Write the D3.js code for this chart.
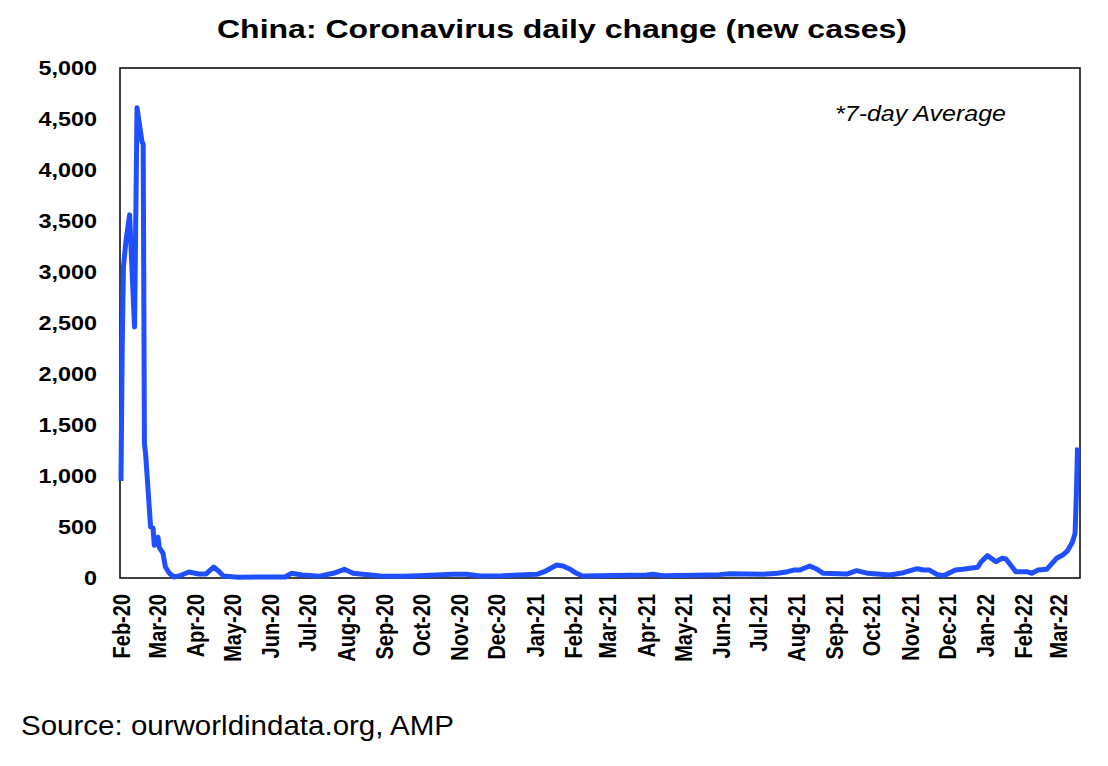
<!DOCTYPE html>
<html>
<head>
<meta charset="utf-8">
<script src="https://cdn.jsdelivr.net/npm/d3@7"></script>
<style>
  body { margin: 0; background: #fff; }
  text { font-family: Arial, "Liberation Sans", sans-serif; }
</style>
</head>
<body>
<div id="chart"></div>
<script>
// 7-day average of new cases
const dates = [
  "2020-02-01", "2020-02-02", "2020-02-03", "2020-02-05", "2020-02-08", "2020-02-12",
  "2020-02-14", "2020-02-18", "2020-02-19", "2020-02-20", "2020-02-21", "2020-02-25",
  "2020-02-27", "2020-02-28", "2020-03-02", "2020-03-03", "2020-03-06", "2020-03-08",
  "2020-03-11", "2020-03-15", "2020-03-19", "2020-03-27", "2020-04-04", "2020-04-10",
  "2020-04-16", "2020-04-20", "2020-04-24", "2020-05-06", "2020-06-13", "2020-06-18",
  "2020-06-27", "2020-07-11", "2020-07-22", "2020-07-31", "2020-08-07", "2020-08-15",
  "2020-08-29", "2020-09-16", "2020-09-30", "2020-10-27", "2020-11-07", "2020-11-18",
  "2020-12-06", "2021-01-03", "2021-01-09", "2021-01-19", "2021-01-24", "2021-01-30",
  "2021-02-04", "2021-02-09", "2021-04-02", "2021-04-07", "2021-04-15", "2021-05-12",
  "2021-05-31", "2021-06-08", "2021-07-05", "2021-07-17", "2021-07-25", "2021-07-30",
  "2021-08-04", "2021-08-12", "2021-08-18", "2021-08-23", "2021-09-11", "2021-09-19",
  "2021-09-28", "2021-10-16", "2021-10-27", "2021-11-07", "2021-11-12", "2021-11-17",
  "2021-11-23", "2021-11-28", "2021-12-01", "2021-12-08", "2021-12-14", "2021-12-26",
  "2021-12-29", "2022-01-03", "2022-01-10", "2022-01-15", "2022-01-18", "2022-01-26",
  "2022-02-04", "2022-02-08", "2022-02-13", "2022-02-20", "2022-02-28", "2022-03-05",
  "2022-03-09", "2022-03-13", "2022-03-15", "2022-03-16", "2022-03-17"
];
const newCases = [
  950, 2250, 3050, 3300, 3560, 2460,
  4610, 4280, 4250, 1320, 1210, 500,
  490, 320, 400, 300, 245, 108,
  49, 10, 20, 59, 39, 40,
  108, 69, 20, 8, 10, 46,
  29, 18, 46, 85, 46, 36,
  20, 18, 22, 36, 36, 20,
  22, 36, 62, 127, 118, 85,
  46, 20, 29, 36, 23, 26,
  33, 42, 36, 46, 62, 78,
  78, 118, 85, 46, 39, 72,
  46, 29, 52, 91, 78, 78,
  36, 23, 36, 78, 85, 105,
  160, 219, 160, 193, 187, 62,
  62, 46, 78, 85, 193, 225,
  268, 356, 438, 800, 1280
];
const yTicks = [0, 500, 1000, 1500, 2000, 2500, 3000, 3500, 4000, 4500, 5000];

const titleText = "China: Coronavirus daily change (new cases)";
const noteText = "*7-day Average";
const sourceText = "Source: ourworldindata.org, AMP";

const width = 1108, height = 766;
const plot = {left: 120, right: 1080, top: 68, bottom: 578};
const lineColor = "#1f4fff";

const parse = d3.timeParse("%Y-%m-%d");
const data = dates.map((d, i) => ({date: parse(d), value: newCases[i]}));

const svg = d3.select("#chart").append("svg")
  .attr("width", width).attr("height", height);

const x = d3.scaleTime()
  .domain([new Date(2020, 0, 31, 5), new Date(2022, 2, 19)])
  .range([plot.left, plot.right]);
const y = d3.scaleLinear().domain([0, 5000]).range([plot.bottom, plot.top]);

// title
svg.append("text")
  .attr("x", 562).attr("y", 38)
  .attr("text-anchor", "middle")
  .attr("font-size", 26.5).attr("font-weight", "bold")
  .attr("textLength", 690).attr("lengthAdjust", "spacingAndGlyphs")
  .text(titleText);

// y axis
const yAxis = svg.append("g")
  .attr("transform", `translate(${plot.left},0)`)
  .call(d3.axisLeft(y).tickValues(yTicks).tickSize(0).tickPadding(19.2).tickFormat(d3.format(",")));
yAxis.select(".domain").remove();
yAxis.selectAll("text")
  .attr("font-size", 19.5).attr("font-weight", "bold").attr("fill", "#000")
  .attr("font-family", "Arial, 'Liberation Sans', sans-serif")
  .attr("transform", "scale(1.2,1)");

// x axis, month labels rotated
const xAxis = svg.append("g")
  .attr("transform", `translate(0,${plot.bottom})`)
  .call(d3.axisBottom(x).ticks(d3.timeMonth.every(1)).tickSize(0).tickFormat(d3.timeFormat("%b-%y")));
xAxis.select(".domain").remove();
xAxis.selectAll("text")
  .attr("font-size", 20).attr("font-weight", "bold").attr("fill", "#000")
  .attr("font-family", "Arial, 'Liberation Sans', sans-serif")
  .attr("text-anchor", "end")
  .attr("x", -16).attr("y", 0).attr("dy", "0.35em")
  .attr("transform", "rotate(-90) scale(1,1.22)");

// plot border
svg.append("rect")
  .attr("x", plot.left).attr("y", plot.top)
  .attr("width", plot.right - plot.left).attr("height", plot.bottom - plot.top)
  .attr("fill", "none").attr("stroke", "#000").attr("stroke-width", 1.5);

// the series
const line = d3.line().x(d => x(d.date)).y(d => y(d.value));
svg.append("path")
  .datum(data)
  .attr("d", line)
  .attr("fill", "none")
  .attr("stroke", lineColor)
  .attr("stroke-width", 5)
  .attr("stroke-linejoin", "round")
  .attr("stroke-linecap", "butt");

// note
svg.append("text")
  .attr("x", 835).attr("y", 121)
  .attr("font-size", 22).attr("font-style", "italic")
  .attr("textLength", 171).attr("lengthAdjust", "spacingAndGlyphs")
  .text(noteText);

// source
svg.append("text")
  .attr("x", 21).attr("y", 735)
  .attr("font-size", 28)
  .attr("textLength", 433).attr("lengthAdjust", "spacingAndGlyphs")
  .text(sourceText);
</script>
</body>
</html>
